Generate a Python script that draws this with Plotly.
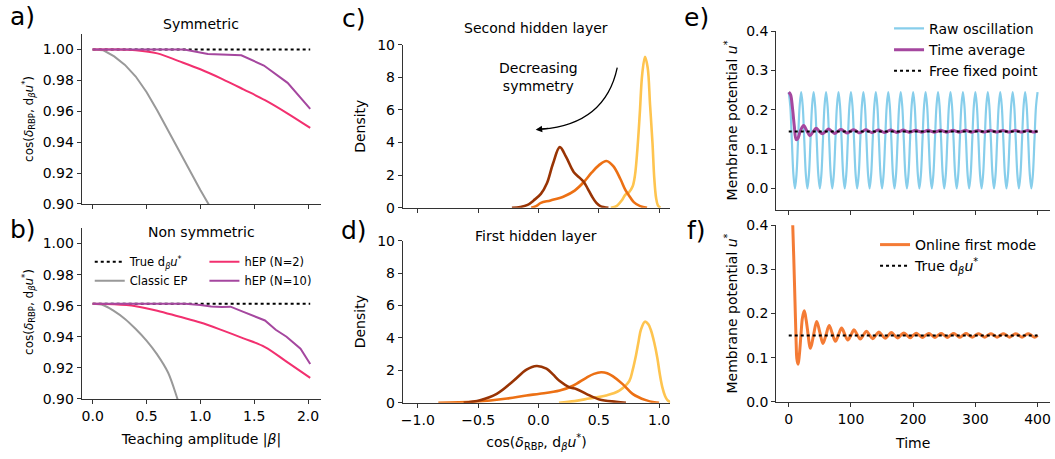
import plotly.graph_objects as go

W, H = 1055, 459
FONT = "DejaVu Sans"

# ---------------- data: panels a) and b) ----------------
beta_range = [0.0, 2.02]
sym_true = [1.0, 1.0]
sym_classic_x = [0.0, 0.1, 0.2, 0.3, 0.4, 0.5, 0.6, 0.7, 0.8, 0.9, 1.0, 1.1, 1.2]
sym_classic_y = [1.0, 0.9995, 0.9955, 0.9900, 0.9825, 0.9725, 0.9605, 0.9475, 0.934, 0.921, 0.909, 0.897, 0.885]
sym_hep2_x = [0.0, 0.2, 0.4, 0.6, 0.8, 1.0, 1.2, 1.4, 1.6, 1.8, 2.02]
sym_hep2_y = [1.0, 1.0, 0.9995, 0.9975, 0.9925, 0.9872, 0.981, 0.9742, 0.9672, 0.959, 0.9492]
sym_hep10_x = [0.0, 0.85, 1.07, 1.38, 1.59, 1.81, 2.02]
sym_hep10_y = [1.0, 1.0, 0.9971, 0.9963, 0.9896, 0.9784, 0.9616]

ns_true = [0.9612, 0.9612]
ns_classic_x = [0.0, 0.1, 0.2, 0.3, 0.4, 0.5, 0.6, 0.7, 0.8, 0.9]
ns_classic_y = [0.9612, 0.9603, 0.9565, 0.9515, 0.945, 0.9375, 0.9285, 0.917, 0.8975, 0.879]
ns_hep2_x = [0.0, 0.2, 0.4, 0.6, 0.8, 1.0, 1.2, 1.4, 1.6, 1.8, 2.02]
ns_hep2_y = [0.9612, 0.9609, 0.9597, 0.9568, 0.9530, 0.9492, 0.9443, 0.9390, 0.9334, 0.9240, 0.9135]
ns_hep10_x = [0.0, 0.86, 1.0, 1.1, 1.2, 1.28, 1.4, 1.52, 1.6, 1.7, 1.8, 1.93, 2.02]
ns_hep10_y = [0.9612, 0.9612, 0.9605, 0.9595, 0.9592, 0.9594, 0.956, 0.9525, 0.9505, 0.9445, 0.940, 0.9323, 0.9225]

# ---------------- data: panels c) and d) (density curves) ----------------
c_high_x = [0.60, 0.65, 0.69, 0.72, 0.75, 0.78, 0.80, 0.82, 0.84, 0.86, 0.883, 0.905, 0.925, 0.945, 0.96, 0.975, 0.99, 1.01]
c_high_y = [0.0, 0.12, 0.45, 0.8, 0.95, 1.3, 2.0, 3.6, 5.8, 8.2, 9.25, 8.6, 6.3, 4.0, 1.8, 0.6, 0.15, 0.0]
c_mid_x = [-0.06, -0.02, 0.02, 0.1, 0.21, 0.3, 0.376, 0.44, 0.50, 0.563, 0.62, 0.678, 0.72, 0.747, 0.79, 0.843, 0.90]
c_mid_y = [0.0, 0.1, 0.3, 0.45, 0.69, 1.05, 1.58, 2.15, 2.6, 2.87, 2.55, 1.78, 1.1, 0.79, 0.35, 0.1, 0.0]
c_low_x = [-0.22, -0.15, -0.09, -0.04, 0.02, 0.07, 0.12, 0.177, 0.23, 0.293, 0.34, 0.376, 0.41, 0.444, 0.48, 0.513, 0.58]
c_low_y = [0.0, 0.05, 0.18, 0.45, 0.85, 1.5, 2.7, 3.72, 3.1, 2.18, 1.85, 1.58, 1.15, 0.69, 0.3, 0.1, 0.0]

d_high_x = [0.17, 0.3, 0.42, 0.56, 0.67, 0.753, 0.78, 0.808, 0.83, 0.849, 0.882, 0.91, 0.931, 0.96, 0.986, 1.005, 1.027, 1.05, 1.069, 1.1]
d_high_y = [0.0, 0.1, 0.26, 0.45, 0.75, 1.34, 2.0, 2.92, 3.8, 4.5, 5.0, 4.85, 4.5, 3.7, 2.73, 1.8, 0.95, 0.4, 0.16, 0.0]
d_mid_x = [-0.83, -0.54, -0.26, -0.1, 0.011, 0.176, 0.286, 0.396, 0.46, 0.519, 0.57, 0.615, 0.698, 0.78, 0.89, 0.96, 1.0]
d_mid_y = [0.0, 0.06, 0.26, 0.45, 0.55, 0.75, 1.05, 1.54, 1.78, 1.88, 1.82, 1.64, 1.15, 0.55, 0.16, 0.03, 0.0]
d_low_x = [-0.62, -0.484, -0.346, -0.209, -0.099, -0.016, 0.066, 0.12, 0.176, 0.258, 0.313, 0.396, 0.505, 0.643, 0.725]
d_low_y = [0.0, 0.16, 0.55, 1.34, 2.04, 2.27, 2.1, 1.75, 1.34, 0.95, 0.85, 0.55, 0.2, 0.06, 0.0]

# ---------------- data: panel e) ----------------
raw_t = [i * 2.5 for i in range(161)]
raw_u = [
    0.245, 0.209, 0.1225, 0.036, 0.0, 0.036, 0.1225, 0.209,
    0.245, 0.209, 0.1225, 0.036, 0.0, 0.036, 0.1225, 0.209,
    0.245, 0.209, 0.1225, 0.036, 0.0, 0.036, 0.1225, 0.209,
    0.245, 0.209, 0.1225, 0.036, 0.0, 0.036, 0.1225, 0.209,
    0.245, 0.209, 0.1225, 0.036, 0.0, 0.036, 0.1225, 0.209,
    0.245, 0.209, 0.1225, 0.036, 0.0, 0.036, 0.1225, 0.209,
    0.245, 0.209, 0.1225, 0.036, 0.0, 0.036, 0.1225, 0.209,
    0.245, 0.209, 0.1225, 0.036, 0.0, 0.036, 0.1225, 0.209,
    0.245, 0.209, 0.1225, 0.036, 0.0, 0.036, 0.1225, 0.209,
    0.245, 0.209, 0.1225, 0.036, 0.0, 0.036, 0.1225, 0.209,
    0.245, 0.209, 0.1225, 0.036, 0.0, 0.036, 0.1225, 0.209,
    0.245, 0.209, 0.1225, 0.036, 0.0, 0.036, 0.1225, 0.209,
    0.245, 0.209, 0.1225, 0.036, 0.0, 0.036, 0.1225, 0.209,
    0.245, 0.209, 0.1225, 0.036, 0.0, 0.036, 0.1225, 0.209,
    0.245, 0.209, 0.1225, 0.036, 0.0, 0.036, 0.1225, 0.209,
    0.245, 0.209, 0.1225, 0.036, 0.0, 0.036, 0.1225, 0.209,
    0.245, 0.209, 0.1225, 0.036, 0.0, 0.036, 0.1225, 0.209,
    0.245, 0.209, 0.1225, 0.036, 0.0, 0.036, 0.1225, 0.209,
    0.245, 0.209, 0.1225, 0.036, 0.0, 0.036, 0.1225, 0.209,
    0.245, 0.209, 0.1225, 0.036, 0.0, 0.036, 0.1225, 0.209,
    0.245,
]
avg_t = [0, 3, 6, 9, 12, 15, 19,
         24, 29, 34, 39, 44, 49, 54, 59, 64, 69, 74, 79, 84, 89, 94, 99,
         104, 109, 114, 119, 124, 129, 134, 139, 144, 149, 154, 159, 164, 169, 174, 179,
         184, 189, 194, 199, 204, 209, 214, 219, 224, 229, 234, 239, 244, 249, 254, 259,
         264, 269, 274, 279, 284, 289, 294, 299, 304, 309, 314, 319, 324, 329, 334, 339,
         344, 349, 354, 359, 364, 369, 374, 379, 384, 389, 394, 399, 400]
avg_u = [0.245, 0.238, 0.205, 0.158, 0.124, 0.128, 0.148,
         0.160, 0.147, 0.134, 0.144, 0.153, 0.1455, 0.139, 0.1445, 0.151, 0.1455, 0.140, 0.1455,
         0.1500, 0.1455, 0.1410, 0.1455,
         0.1495, 0.1455, 0.1415, 0.1455, 0.1490, 0.1455, 0.1420, 0.1455, 0.1488, 0.1455, 0.1422, 0.1455,
         0.1486, 0.1455, 0.1424, 0.1455,
         0.1484, 0.1455, 0.1426, 0.1455, 0.1482, 0.1455, 0.1428, 0.1455, 0.1480, 0.1455, 0.1430, 0.1455,
         0.1480, 0.1455, 0.1430, 0.1455,
         0.1478, 0.1455, 0.1432, 0.1455, 0.1478, 0.1455, 0.1432, 0.1455, 0.1476, 0.1455, 0.1434, 0.1455,
         0.1476, 0.1455, 0.1434, 0.1455,
         0.1475, 0.1455, 0.1435, 0.1455, 0.1475, 0.1455, 0.1435, 0.1455, 0.1475, 0.1455, 0.1435, 0.1455, 0.1458]
fixed_t = [0, 400]
fixed_u = [0.145, 0.145]

# ---------------- data: panel f) ----------------
mode_t = [0, 2, 4, 6, 8, 10, 12, 13, 15, 17, 20, 22, 25, 28, 30, 35, 40, 45, 50, 55, 60, 65, 70, 75, 80,
          85, 90, 95, 100, 105, 110, 115, 120, 125, 130, 135, 140, 145, 150, 155, 160, 165, 170, 175, 180,
          185, 190, 195, 200, 205, 210, 215, 220, 225, 230, 235, 240, 245, 250, 255, 260, 265, 270, 275, 280,
          285, 290, 295, 300, 305, 310, 315, 320, 325, 330, 335, 340, 345, 350, 355, 360, 365, 370, 375, 380,
          385, 390, 395, 400]
mode_u = [0.65, 0.58, 0.50, 0.42, 0.33, 0.23, 0.13, 0.098, 0.085, 0.105, 0.158, 0.19, 0.206, 0.185, 0.165, 0.121,
          0.152, 0.182, 0.157, 0.132, 0.152, 0.173, 0.155, 0.137, 0.152,
          0.167, 0.153, 0.140, 0.151, 0.163, 0.152, 0.142, 0.151, 0.160, 0.151, 0.143, 0.1505, 0.158, 0.1505,
          0.144, 0.1505, 0.157, 0.1505, 0.1445, 0.1505,
          0.156, 0.1505, 0.145, 0.1505, 0.155, 0.1505, 0.1455, 0.1505, 0.1548, 0.1505, 0.1457, 0.1505, 0.1546,
          0.1505, 0.1458, 0.1505, 0.1545, 0.1505, 0.1459, 0.1505,
          0.1544, 0.1505, 0.1460, 0.1505, 0.1543, 0.1505, 0.1460, 0.1505, 0.1542, 0.1505, 0.1461, 0.1505,
          0.1541, 0.1505, 0.1461, 0.1505, 0.1540, 0.1505, 0.1462, 0.1505,
          0.1540, 0.1505, 0.1462, 0.1505]
true_t = [0, 400]
true_u = [0.15, 0.15]

# ---------------- styles ----------------
C_GRAY = "#999999"
C_PINK = "#f2306f"
C_PURPLE = "#a5479f"
C_LOW = "#993404"
C_MID = "#ec7014"
C_HIGH = "#fec44f"
C_BLUE = "#87ceeb"
C_ORANGE = "#f47b35"
AX_COL = "#333333"


def px_x(p):
    return p / W


def px_y(p):
    return 1 - p / H


fig = go.Figure()

# panel a
fig.add_trace(go.Scatter(x=beta_range, y=sym_true, mode="lines", line=dict(color="black", width=2, dash="dot"),
                         xaxis="x", yaxis="y", showlegend=False))
fig.add_trace(go.Scatter(x=sym_classic_x, y=sym_classic_y, mode="lines", line=dict(color=C_GRAY, width=2),
                         xaxis="x", yaxis="y", showlegend=False))
fig.add_trace(go.Scatter(x=sym_hep2_x, y=sym_hep2_y, mode="lines", line=dict(color=C_PINK, width=2, shape="spline"),
                         xaxis="x", yaxis="y", showlegend=False))
fig.add_trace(go.Scatter(x=sym_hep10_x, y=sym_hep10_y, mode="lines", line=dict(color=C_PURPLE, width=2),
                         xaxis="x", yaxis="y", showlegend=False))

# panel b
true_lbl = "True d<sub><i>β</i></sub><i>u</i><sup>*</sup>"
fig.add_trace(go.Scatter(x=beta_range, y=ns_true, mode="lines", line=dict(color="black", width=2, dash="dot"),
                         xaxis="x2", yaxis="y2", name=true_lbl, legend="legend"))
fig.add_trace(go.Scatter(x=ns_classic_x, y=ns_classic_y, mode="lines", line=dict(color=C_GRAY, width=2, shape="spline"),
                         xaxis="x2", yaxis="y2", name="Classic EP", legend="legend"))
fig.add_trace(go.Scatter(x=ns_hep2_x, y=ns_hep2_y, mode="lines", line=dict(color=C_PINK, width=2, shape="spline"),
                         xaxis="x2", yaxis="y2", name="hEP (N=2)", legend="legend2"))
fig.add_trace(go.Scatter(x=ns_hep10_x, y=ns_hep10_y, mode="lines", line=dict(color=C_PURPLE, width=2),
                         xaxis="x2", yaxis="y2", name="hEP (N=10)", legend="legend2"))

# panel c
for xs, ys, col in [(c_high_x, c_high_y, C_HIGH), (c_mid_x, c_mid_y, C_MID), (c_low_x, c_low_y, C_LOW)]:
    fig.add_trace(go.Scatter(x=xs, y=ys, mode="lines", line=dict(color=col, width=2.6, shape="spline"),
                             xaxis="x3", yaxis="y3", showlegend=False))
# panel d
for xs, ys, col in [(d_high_x, d_high_y, C_HIGH), (d_mid_x, d_mid_y, C_MID), (d_low_x, d_low_y, C_LOW)]:
    fig.add_trace(go.Scatter(x=xs, y=ys, mode="lines", line=dict(color=col, width=2.6, shape="spline"),
                             xaxis="x4", yaxis="y4", showlegend=False))

# panel e
fig.add_trace(go.Scatter(x=raw_t, y=raw_u, mode="lines", line=dict(color=C_BLUE, width=2.2, shape="spline"),
                         xaxis="x5", yaxis="y5", name="Raw oscillation", legend="legend3"))
fig.add_trace(go.Scatter(x=avg_t, y=avg_u, mode="lines", line=dict(color=C_PURPLE, width=3, shape="spline"),
                         xaxis="x5", yaxis="y5", name="Time average", legend="legend3"))
fig.add_trace(go.Scatter(x=fixed_t, y=fixed_u, mode="lines", line=dict(color="black", width=2, dash="dot"),
                         xaxis="x5", yaxis="y5", name="Free fixed point", legend="legend3"))

# panel f
fig.add_trace(go.Scatter(x=mode_t, y=mode_u, mode="lines", line=dict(color=C_ORANGE, width=3, shape="spline"),
                         xaxis="x6", yaxis="y6", name="Online first mode", legend="legend4"))
fig.add_trace(go.Scatter(x=true_t, y=true_u, mode="lines", line=dict(color="black", width=2, dash="dot"),
                         xaxis="x6", yaxis="y6", name=true_lbl, legend="legend4"))

tickfont = dict(family=FONT, size=14, color="black")
base_ax = dict(showline=True, linecolor=AX_COL, linewidth=1.2, ticks="outside", ticklen=4, tickwidth=1.2,
               tickcolor=AX_COL, showgrid=False, zeroline=False, tickfont=tickfont, fixedrange=True)

XA = [px_x(80), px_x(320)]
XC = [px_x(402), px_x(670)]
XE = [px_x(776.5), px_x(1051)]

cos_title = "cos(<i>δ</i><sub>RBP</sub>, d<sub><i>β</i></sub><i>u</i><sup>*</sup>)"
mem_title = "Membrane potential <i>u</i><sup>*</sup>"

layout_axes = dict(
    xaxis=dict(base_ax, domain=XA, anchor="y", range=[-0.101, 2.121], tickvals=[0, 0.5, 1.0, 1.5, 2.0],
               showticklabels=False),
    yaxis=dict(base_ax, domain=[px_y(203), px_y(27)], anchor="x", range=[0.90, 1.01],
               tickvals=[0.90, 0.92, 0.94, 0.96, 0.98, 1.00], tickformat=".2f"),
    xaxis2=dict(base_ax, domain=XA, anchor="y2", range=[-0.101, 2.121], tickvals=[0, 0.5, 1.0, 1.5, 2.0],
                tickformat=".1f",
                title=dict(text="Teaching amplitude |<i>β</i>|", font=dict(family=FONT, size=14), standoff=11)),
    yaxis2=dict(base_ax, domain=[px_y(405), px_y(228)], anchor="x2", range=[0.90, 1.01],
                tickvals=[0.90, 0.92, 0.94, 0.96, 0.98, 1.00], tickformat=".2f"),
    xaxis3=dict(base_ax, domain=XC, anchor="y3", range=[-1.124, 1.091], tickvals=[-1, -0.5, 0, 0.5, 1.0],
                showticklabels=False),
    yaxis3=dict(base_ax, domain=[px_y(207), px_y(38)], anchor="x3", range=[0, 10], tickvals=[0, 2, 4, 6, 8, 10],
                title=dict(text="Density", font=dict(family=FONT, size=14), standoff=8)),
    xaxis4=dict(base_ax, domain=XC, anchor="y4", range=[-1.124, 1.091], tickvals=[-1, -0.5, 0, 0.5, 1.0],
                tickformat=".1f",
                title=dict(text=cos_title, font=dict(family=FONT, size=14), standoff=10)),
    yaxis4=dict(base_ax, domain=[px_y(409), px_y(241)], anchor="x4", range=[0, 10], tickvals=[0, 2, 4, 6, 8, 10],
                title=dict(text="Density", font=dict(family=FONT, size=14), standoff=8)),
    xaxis5=dict(base_ax, domain=XE, anchor="y5", range=[-20, 420], tickvals=[0, 100, 200, 300, 400],
                showticklabels=False),
    yaxis5=dict(base_ax, domain=[px_y(209), px_y(24)], anchor="x5", range=[-0.054, 0.4],
                tickvals=[0, 0.1, 0.2, 0.3, 0.4], tickformat=".1f",
                title=dict(text=mem_title, font=dict(family=FONT, size=14), standoff=5)),
    xaxis6=dict(base_ax, domain=XE, anchor="y6", range=[-20, 420], tickvals=[0, 100, 200, 300, 400],
                title=dict(text="Time", font=dict(family=FONT, size=14), standoff=12)),
    yaxis6=dict(base_ax, domain=[px_y(408), px_y(225)], anchor="x6", range=[0, 0.4],
                tickvals=[0, 0.1, 0.2, 0.3, 0.4], tickformat=".1f",
                title=dict(text=mem_title, font=dict(family=FONT, size=14), standoff=5)),
)

leg_base = dict(bgcolor="rgba(0,0,0,0)", borderwidth=0, yanchor="top", tracegroupgap=0, itemwidth=30)
legends = dict(
    legend=dict(leg_base, xanchor="left", x=px_x(88), y=px_y(248), font=dict(family=FONT, size=11.5)),
    legend2=dict(leg_base, xanchor="left", x=px_x(203), y=px_y(248), font=dict(family=FONT, size=11.5)),
    legend3=dict(leg_base, xanchor="right", x=px_x(1044), y=px_y(5), font=dict(family=FONT, size=14)),
    legend4=dict(leg_base, xanchor="right", x=px_x(1043), y=px_y(229), font=dict(family=FONT, size=14)),
)

annotations = []


def add_text(text, x, y, size, angle=0):
    annotations.append(dict(text=text, x=px_x(x), y=px_y(y), xref="paper", yref="paper", showarrow=False,
                            xanchor="center", yanchor="middle", textangle=angle,
                            font=dict(family=FONT, size=size, color="black")))


add_text("Symmetric", 200, 17, 14)
add_text("Non symmetric", 200, 232, 14)
add_text("Second hidden layer", 536, 21, 14)
add_text("First hidden layer", 536, 236, 14)
for lbl, x, y in [("a)", 21, 9), ("b)", 21, 230), ("c)", 353, 11), ("d)", 353, 231), ("e)", 696, 10), ("f)", 696, 231)]:
    add_text(lbl, x, y, 25)
add_text("Decreasing<br>symmetry", 538, 72, 14)
add_text(cos_title, 27, 115, 12, angle=-90)
add_text(cos_title, 27, 315, 12, angle=-90)

# arrow head for the curved arrow in panel c
annotations.append(dict(x=-0.023, y=4.79, xref="x3", yref="y3", ax=14, ay=-1.5, axref="pixel", ayref="pixel",
                        text="", showarrow=True, arrowhead=2, arrowsize=1, arrowwidth=1.3, arrowcolor="black",
                        standoff=0))

shapes = [dict(type="path", xref="x3", yref="y3", path="M 0.653,8.6 Q 0.554,5.15 0.03,4.82",
               line=dict(color="black", width=1.3), fillcolor="rgba(0,0,0,0)")]

fig.update_layout(
    width=W, height=H, autosize=False,
    margin=dict(l=0, r=0, t=0, b=0),
    paper_bgcolor="white", plot_bgcolor="white",
    font=dict(family=FONT, size=14, color="black"),
    annotations=annotations, shapes=shapes,
    **layout_axes, **legends,
)

fig.write_html("out.html", config={"displayModeBar": False},
               post_script="document.body.style.margin='0';document.body.style.overflow='hidden';")
